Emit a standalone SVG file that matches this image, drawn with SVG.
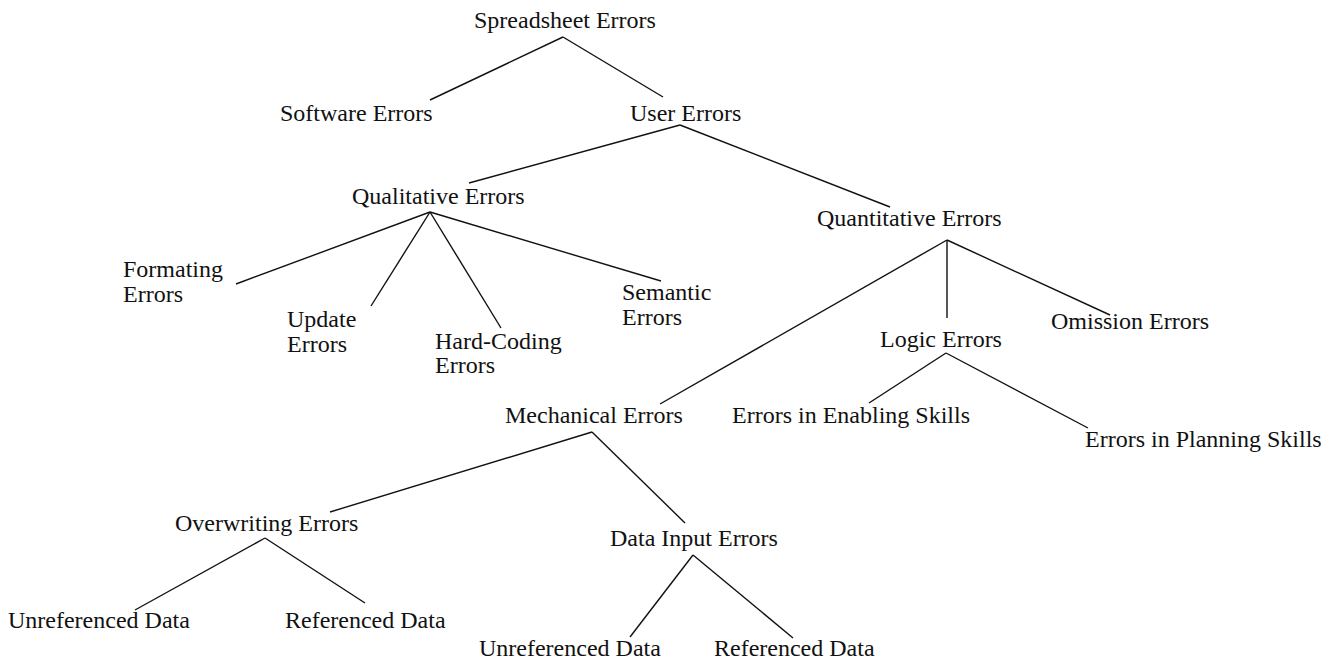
<svg xmlns="http://www.w3.org/2000/svg" width="1338" height="661" viewBox="0 0 1338 661">
  <style>
    .lbl { font-family: "Liberation Serif", "Times New Roman", serif; font-size: 24px; fill: #111; }
    .edge { stroke: #111; stroke-width: 1.4; fill: none; }
  </style>
  <rect width="1338" height="661" fill="#fff"/>

  <!-- connectors of the error taxonomy tree -->
  <g id="connectors" class="edge">
    <!-- Spreadsheet Errors -->
    <line x1="563" y1="37" x2="430" y2="100"/>
    <line x1="563" y1="37" x2="663" y2="97"/>
    <!-- User Errors -->
    <line x1="680" y1="125" x2="469" y2="183"/>
    <line x1="680" y1="125" x2="890" y2="207"/>
    <!-- Qualitative Errors -->
    <line x1="430" y1="212" x2="236" y2="284"/>
    <line x1="430" y1="212" x2="371" y2="306"/>
    <line x1="430" y1="212" x2="501" y2="328"/>
    <line x1="430" y1="212" x2="661" y2="281"/>
    <!-- Quantitative Errors -->
    <line x1="947" y1="240" x2="660" y2="404"/>
    <line x1="947" y1="240" x2="947" y2="318"/>
    <line x1="947" y1="240" x2="1110" y2="315"/>
    <!-- Logic Errors -->
    <line x1="946" y1="353" x2="869" y2="403"/>
    <line x1="946" y1="353" x2="1088" y2="428"/>
    <!-- Mechanical Errors -->
    <line x1="592" y1="432" x2="330" y2="512"/>
    <line x1="592" y1="432" x2="685" y2="523"/>
    <!-- Overwriting Errors -->
    <line x1="265" y1="538" x2="135" y2="610"/>
    <line x1="265" y1="538" x2="365" y2="603"/>
    <!-- Data Input Errors -->
    <line x1="693" y1="555" x2="630" y2="637"/>
    <line x1="693" y1="555" x2="793" y2="638"/>
  </g>

  <g id="spreadsheet-errors"><text class="lbl" x="474" y="28">Spreadsheet Errors</text></g>
  <g id="software-errors"><text class="lbl" x="280" y="121">Software Errors</text></g>
  <g id="user-errors"><text class="lbl" x="630" y="121">User Errors</text></g>
  <g id="qualitative-errors"><text class="lbl" x="352" y="204">Qualitative Errors</text></g>
  <g id="quantitative-errors"><text class="lbl" x="817" y="226">Quantitative Errors</text></g>
  <g id="formating-errors">
    <text class="lbl" x="123" y="277">Formating</text>
    <text class="lbl" x="123" y="302">Errors</text>
  </g>
  <g id="update-errors">
    <text class="lbl" x="287" y="327">Update</text>
    <text class="lbl" x="287" y="352">Errors</text>
  </g>
  <g id="hard-coding-errors">
    <text class="lbl" x="435" y="349">Hard-Coding</text>
    <text class="lbl" x="435" y="373">Errors</text>
  </g>
  <g id="semantic-errors">
    <text class="lbl" x="622" y="300">Semantic</text>
    <text class="lbl" x="622" y="325">Errors</text>
  </g>
  <g id="omission-errors"><text class="lbl" x="1051" y="329">Omission Errors</text></g>
  <g id="logic-errors"><text class="lbl" x="880" y="347">Logic Errors</text></g>
  <g id="enabling-skills"><text class="lbl" x="732" y="423">Errors in Enabling Skills</text></g>
  <g id="planning-skills"><text class="lbl" x="1085" y="447">Errors in Planning Skills</text></g>
  <g id="mechanical-errors"><text class="lbl" x="505" y="423">Mechanical Errors</text></g>
  <g id="overwriting-errors"><text class="lbl" x="175" y="531">Overwriting Errors</text></g>
  <g id="overwriting-unreferenced"><text class="lbl" x="8" y="628">Unreferenced Data</text></g>
  <g id="overwriting-referenced"><text class="lbl" x="285" y="628">Referenced Data</text></g>
  <g id="data-input-errors"><text class="lbl" x="610" y="546">Data Input Errors</text></g>
  <g id="input-unreferenced"><text class="lbl" x="479" y="656">Unreferenced Data</text></g>
  <g id="input-referenced"><text class="lbl" x="714" y="656">Referenced Data</text></g>
</svg>
